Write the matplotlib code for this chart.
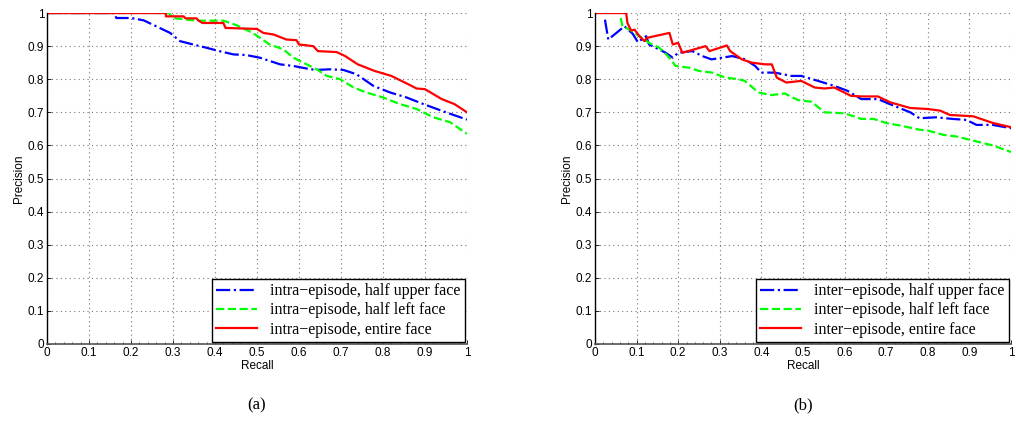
import numpy as np
import matplotlib.pyplot as plt

# precision-recall curves, (a) intra-episode and (b) inter-episode
a_red_r = [0, 0.283, 0.283, 0.325, 0.33, 0.356, 0.36, 0.37, 0.42, 0.425, 0.50, 0.515, 0.54,
           0.57, 0.594, 0.60, 0.634, 0.645, 0.69, 0.71, 0.74, 0.78, 0.82, 0.86, 0.88, 0.90,
           0.94, 0.97, 1.0]
a_red_p = [1, 1, 0.99, 0.99, 0.984, 0.984, 0.978, 0.97, 0.97, 0.955, 0.952, 0.94, 0.935,
           0.92, 0.918, 0.905, 0.90, 0.885, 0.882, 0.87, 0.845, 0.825, 0.81, 0.785, 0.772,
           0.77, 0.74, 0.725, 0.70]

a_blue_r = [0, 0.16, 0.165, 0.2, 0.23, 0.26, 0.293, 0.317, 0.348, 0.38, 0.41, 0.444, 0.475,
            0.507, 0.555, 0.587, 0.62, 0.64, 0.674, 0.706, 0.737, 0.777, 0.817, 0.856,
            0.896, 0.95, 1.0]
a_blue_p = [1, 1, 0.985, 0.985, 0.978, 0.96, 0.94, 0.915, 0.905, 0.895, 0.885, 0.875, 0.873,
            0.865, 0.845, 0.84, 0.832, 0.828, 0.83, 0.828, 0.815, 0.78, 0.76, 0.745,
            0.725, 0.70, 0.678]

a_green_r = [0, 0.29, 0.30, 0.356, 0.42, 0.452, 0.49, 0.53, 0.563, 0.587, 0.618, 0.642,
             0.666, 0.698, 0.73, 0.76, 0.80, 0.84, 0.88, 0.92, 0.96, 1.0]
a_green_p = [1, 1, 0.985, 0.977, 0.977, 0.963, 0.94, 0.905, 0.89, 0.865, 0.845, 0.83,
             0.81, 0.80, 0.775, 0.76, 0.745, 0.725, 0.71, 0.685, 0.67, 0.635]

b_red_r = [0, 0.075, 0.078, 0.087, 0.095, 0.107, 0.119, 0.125, 0.179, 0.187, 0.20, 0.21,
           0.266, 0.275, 0.317, 0.325, 0.353, 0.377, 0.409, 0.425, 0.437, 0.46, 0.496,
           0.528, 0.552, 0.575, 0.615, 0.64, 0.68, 0.71, 0.758, 0.80, 0.83, 0.853, 0.909,
           0.956, 1.0]
b_red_p = [1, 1, 0.97, 0.947, 0.95, 0.93, 0.915, 0.925, 0.94, 0.905, 0.91, 0.88,
           0.90, 0.885, 0.902, 0.885, 0.86, 0.85, 0.845, 0.845, 0.805, 0.79, 0.795,
           0.775, 0.772, 0.775, 0.75, 0.748, 0.748, 0.73, 0.713, 0.71, 0.705, 0.692, 0.688,
           0.668, 0.655]

b_blue_r = [0.024, 0.032, 0.071, 0.091, 0.103, 0.123, 0.13, 0.17, 0.187, 0.20, 0.234, 0.258,
            0.28, 0.305, 0.33, 0.361, 0.385, 0.40, 0.432, 0.472, 0.496, 0.536, 0.575,
            0.607, 0.64, 0.68, 0.718, 0.758, 0.78, 0.82, 0.86, 0.893, 0.917, 0.956, 1.0]
b_blue_p = [0.98, 0.92, 0.96, 0.937, 0.912, 0.93, 0.905, 0.88, 0.865, 0.88, 0.885, 0.87,
            0.86, 0.865, 0.87, 0.86, 0.84, 0.82, 0.82, 0.81, 0.81, 0.795, 0.78,
            0.765, 0.74, 0.74, 0.72, 0.70, 0.682, 0.685, 0.68, 0.677, 0.662, 0.662, 0.652]

b_green_r = [0.062, 0.066, 0.083, 0.107, 0.13, 0.155, 0.175, 0.194, 0.226, 0.25, 0.282,
             0.313, 0.345, 0.36, 0.393, 0.424, 0.456, 0.488, 0.52, 0.552, 0.60, 0.64, 0.67,
             0.702, 0.734, 0.782, 0.80, 0.837, 0.869, 0.917, 0.956, 1.0]
b_green_p = [0.985, 0.96, 0.95, 0.93, 0.91, 0.895, 0.87, 0.84, 0.835, 0.825, 0.82,
             0.805, 0.80, 0.795, 0.76, 0.752, 0.757, 0.737, 0.732, 0.70, 0.697, 0.68, 0.68,
             0.667, 0.66, 0.647, 0.645, 0.632, 0.627, 0.612, 0.60, 0.58]

ticks = np.round(np.arange(0, 1.01, 0.1), 1)
tick_labels = ['0'] + [f'{t:g}' for t in ticks[1:-1]] + ['1']

fig = plt.figure(figsize=(10.16, 4.21), dpi=100)
ax_a = fig.add_axes([0.0463, 0.183, 0.4133, 0.786])
ax_b = fig.add_axes([0.5856, 0.183, 0.4095, 0.786])


def draw(ax, red, blue, green, prefix, caption):
    ax.plot(blue[0], blue[1], color='#0000ff', ls='-.', lw=1.6,
            label=f'{prefix}\u2212episode, half upper face')
    ax.plot(green[0], green[1], color='#00ff00', ls='--', lw=1.6,
            label=f'{prefix}\u2212episode, half left face')
    ax.plot(red[0], red[1], color='#ff0000', ls='-', lw=1.6,
            label=f'{prefix}\u2212episode, entire face')
    ax.set_xlim(0, 1)
    ax.set_ylim(0, 1)
    ax.set_xticks(ticks)
    ax.set_yticks(ticks)
    ax.set_xticklabels(tick_labels, fontsize=8.5, family='Liberation Sans')
    ax.set_yticklabels(tick_labels, fontsize=8.5, family='Liberation Sans')
    ax.set_xticks(np.arange(0, 1.001, 0.02), minor=True)
    ax.tick_params(which='major', direction='in', length=3, width=0.6, pad=2)
    ax.tick_params(which='minor', direction='in', length=1.5, width=0.5)
    ax.grid(True, ls=(0, (1, 3)), color='#777777', lw=0.8)
    ax.spines['top'].set_visible(False)
    ax.spines['right'].set_visible(False)
    ax.spines['left'].set_linewidth(1.0)
    ax.spines['bottom'].set_color('#555555')
    ax.spines['bottom'].set_linewidth(1.2)
    ax.set_xlabel('Recall', fontsize=8.5, family='Liberation Sans', labelpad=1)
    ax.set_ylabel('Precision', fontsize=8.5, family='Liberation Sans', labelpad=2)
    leg = ax.legend(loc='lower right', prop={'family': 'Liberation Serif', 'size': 11.5},
                    fancybox=False, edgecolor='black', framealpha=1,
                    borderpad=0.25, labelspacing=0.2, handlelength=2.6, borderaxespad=0.15)
    leg.get_frame().set_linewidth(1.0)
    ax.text(0.5, -0.16, caption, transform=ax.transAxes, ha='center', va='top',
            fontsize=12, family='Liberation Serif')


draw(ax_a, (a_red_r, a_red_p), (a_blue_r, a_blue_p), (a_green_r, a_green_p), 'intra', '(a)')
draw(ax_b, (b_red_r, b_red_p), (b_blue_r, b_blue_p), (b_green_r, b_green_p), 'inter', '(b)')

fig.savefig('out.png', dpi=100)
